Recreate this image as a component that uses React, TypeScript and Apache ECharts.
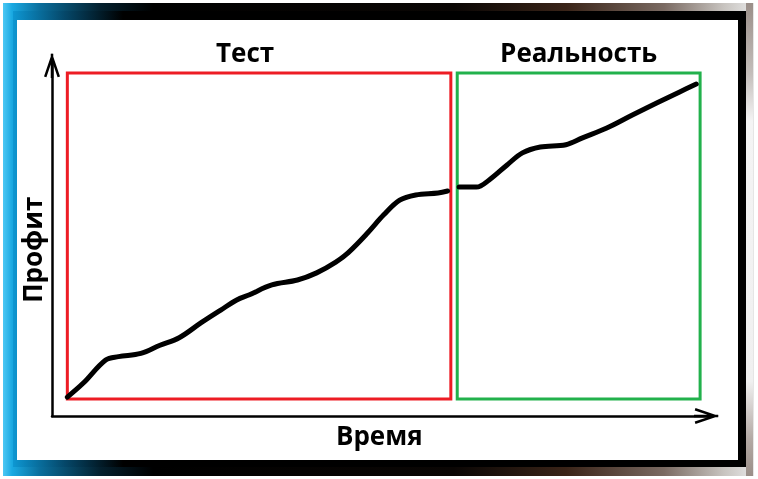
import React, { useEffect, useRef } from "react";
import * as echarts from "echarts";

// Profit curve during the back-test phase (time units, profit units)
const testTime = [0, 2.5, 6, 8, 11.5, 14.5, 17.5, 21, 24, 26.5, 28.5, 32, 36, 39, 42, 44, 47, 49.5, 52, 54.5, 58, 59.5];
const testProfit = [0.6, 4.9, 12, 13, 14, 16.5, 18.8, 23.5, 27.3, 30.4, 32, 35, 36.5, 38.7, 42, 45, 51, 56.5, 61, 62.6, 63.2, 63.8];

// Profit curve in real trading
const realTime = [61.3, 64, 66, 68.8, 71.2, 74, 78, 80.6, 84.4, 88.4, 92.2, 95.8, 98.4];
const realProfit = [65, 65, 67.2, 71.8, 75.5, 77.3, 78, 80.1, 83.1, 87.1, 90.8, 94.2, 96.6];

// Phases (boxes)
const phaseNames = ["Тест", "Реальность"];
const phaseStart = [0, 61];
const phaseEnd = [60, 99];
const phaseBottom = [0, 0];
const phaseTop = [100, 100];
const phaseColors = ["#ed1c24", "#22b14c"];

const axisNames = { x: "Время", y: "Профит" };

const ARROW =
  "path://M8 0 L16 23.5 L13.6 24.3 L8 7.8 L2.4 24.3 L0 23.5 Z M6.75 0.8 L9.25 0.8 L9.25 25 L6.75 25 Z";

const FONT = "'Open Sans', 'Noto Sans', sans-serif";

export default function App() {
  const ref = useRef<HTMLDivElement>(null);
  useEffect(() => {
    if (!ref.current) return;
    const chart = echarts.init(ref.current, null, { renderer: "svg" });
    const nameStyle = { fontSize: 26, fontWeight: "bold" as const, color: "#000", fontFamily: FONT };
    const lineStyle = { color: "#000", width: 5, cap: "round" as const, join: "round" as const };
    chart.setOption({
      animation: false,
      graphic: [
        {
          type: "rect",
          z: -10,
          shape: { x: 3, y: 3, width: 751, height: 473 },
          style: {
            fill: new echarts.graphic.LinearGradient(0, 0, 1, 0, [
              { offset: 0, color: "#4cc8f4" },
              { offset: 0.012, color: "#1aa9e2" },
              { offset: 0.05, color: "#0a6d9b" },
              { offset: 0.13, color: "#04202e" },
              { offset: 0.2, color: "#000000" },
              { offset: 0.6, color: "#0a0604" },
              { offset: 0.75, color: "#3a2418" },
              { offset: 0.88, color: "#7a6a62" },
              { offset: 0.96, color: "#c8c4c0" },
              { offset: 1, color: "#e6e6e6" },
            ]),
          },
        },
        {
          type: "rect",
          z: -9,
          shape: { x: 746, y: 3, width: 7, height: 473 },
          style: {
            fill: new echarts.graphic.LinearGradient(0, 0, 0, 1, [
              { offset: 0, color: "#9a8e88" },
              { offset: 0.15, color: "#c4bebb" },
              { offset: 0.25, color: "#f4f4f4" },
              { offset: 0.8, color: "#f0f0f0" },
              { offset: 0.92, color: "#b4aaa5" },
              { offset: 1, color: "#9a8e88" },
            ]),
          },
        },
        {
          type: "rect",
          z: -8,
          shape: { x: 13, y: 11, width: 733, height: 456 },
          style: {
            fill: new echarts.graphic.LinearGradient(0, 0, 1, 0, [
              { offset: 0, color: "#0e97d2" },
              { offset: 0.02, color: "#0a7fb4" },
              { offset: 0.07, color: "#05486a" },
              { offset: 0.15, color: "#000000" },
              { offset: 1, color: "#000000" },
            ]),
          },
        },
        {
          type: "rect",
          z: -7,
          shape: { x: 17, y: 20, width: 721, height: 440 },
          style: { fill: "#ffffff" },
        },
      ],
      grid: { left: 52, right: 51.5, top: 65.5, bottom: 63 },
      xAxis: {
        type: "value",
        min: -2.4,
        max: 100,
        axisLine: {
          show: true,
          onZero: false,
          symbol: ["none", ARROW],
          symbolSize: [16, 25],
          lineStyle: { color: "#000", width: 2.5 },
        },
        axisTick: { show: false },
        axisLabel: { show: false },
        splitLine: { show: false },
        name: axisNames.x,
        nameLocation: "middle",
        nameGap: 6,
        nameTextStyle: nameStyle,
      },
      yAxis: {
        type: "value",
        min: -5.2,
        max: 102.3,
        axisLine: {
          show: true,
          onZero: false,
          symbol: ["none", ARROW],
          symbolSize: [16, 25],
          lineStyle: { color: "#000", width: 2.5 },
        },
        axisTick: { show: false },
        axisLabel: { show: false },
        splitLine: { show: false },
        name: axisNames.y,
        nameLocation: "middle",
        nameGap: 7,
        nameTextStyle: { ...nameStyle, padding: [0, 18, 0, 0] },
      },
      series: [
        {
          type: "line",
          data: [],
          z: 1,
          silent: true,
          markArea: {
            silent: true,
            data: phaseNames.map((n, i) => [
              {
                name: n,
                xAxis: phaseStart[i],
                yAxis: phaseBottom[i],
                itemStyle: { color: "rgba(0,0,0,0)", borderColor: phaseColors[i], borderWidth: 3 },
                label: { offset: i === 0 ? [-14, 0] : [0, 0] },
              },
              { xAxis: phaseEnd[i], yAxis: phaseTop[i] },
            ]),
            label: {
              show: true,
              position: "top",
              distance: 6,
              fontSize: 26,
              fontWeight: "bold",
              color: "#000",
              fontFamily: FONT,
            },
          },
        },
        {
          type: "line",
          z: 3,
          symbol: "none",
          smooth: 0.35,
          lineStyle,
          data: testTime.map((t, i) => [t, testProfit[i]]),
        },
        {
          type: "line",
          z: 3,
          symbol: "none",
          smooth: 0.35,
          lineStyle,
          data: realTime.map((t, i) => [t, realProfit[i]]),
        },
      ],
    });
    return () => chart.dispose();
  }, []);
  return <div ref={ref} style={{ position: "fixed", left: 0, top: 0, width: 758, height: 479 }} />;
}
